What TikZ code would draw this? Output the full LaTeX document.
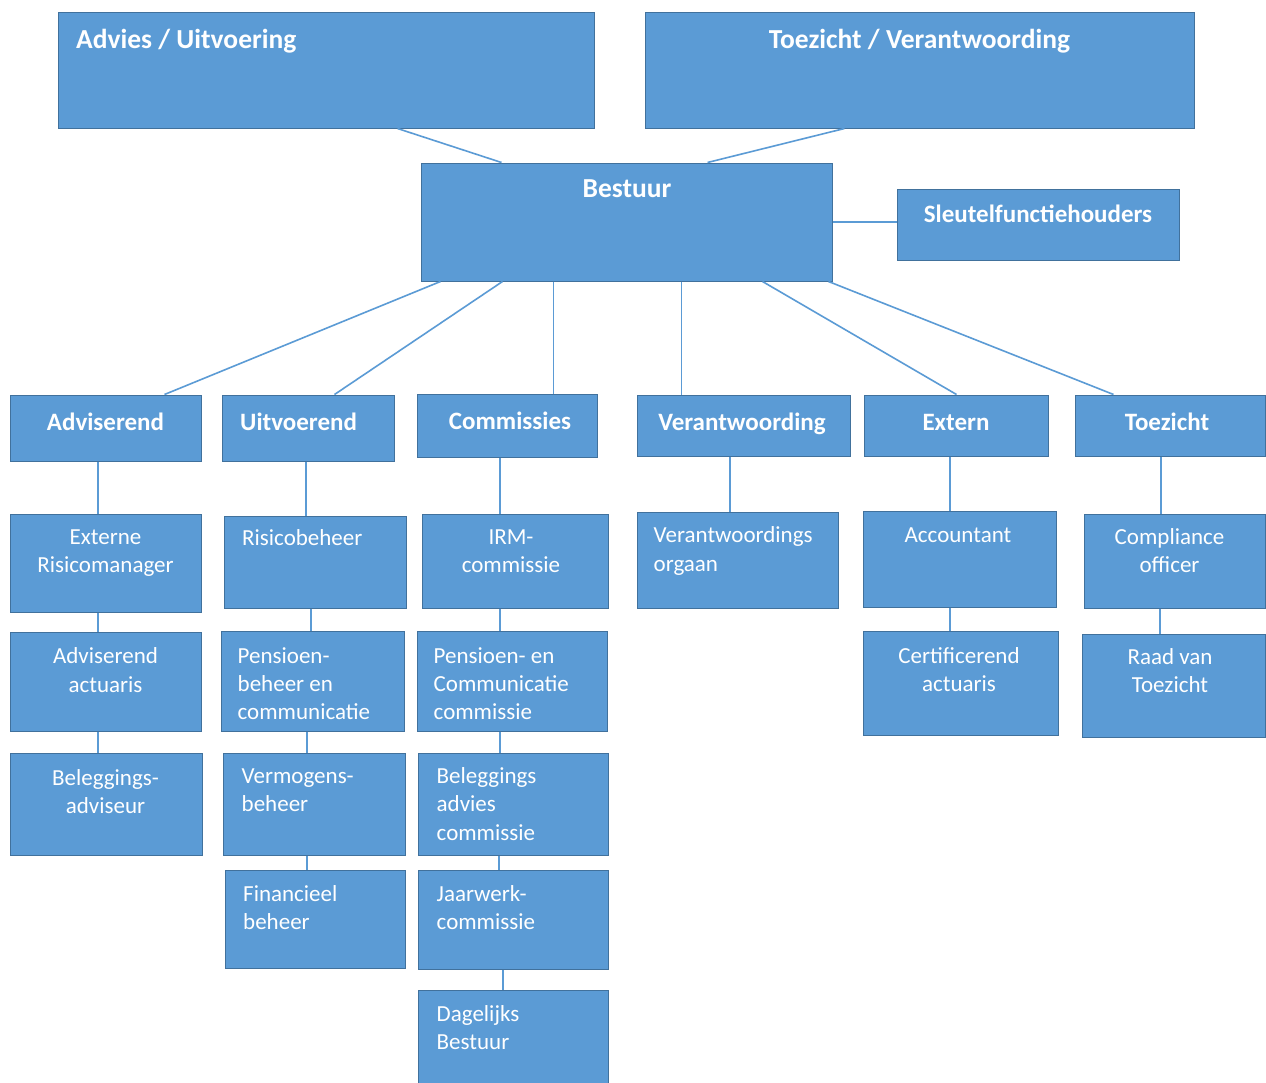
\documentclass[tikz,border=0pt]{standalone}
\usepackage{fontspec}
\setmainfont{Carlito}
\usetikzlibrary{fit,calc}
\definecolor{boxblue}{HTML}{5B9BD5}
\definecolor{boxedge}{HTML}{41719C}
\definecolor{linkblue}{HTML}{5B9BD5}
\tikzset{
  orgbox/.style={rectangle, fill=boxblue, draw=boxedge, line width=1pt, inner sep=0pt},
  conn/.style={draw=linkblue, line width=1.6pt},
  bodytxt/.style={text=white, inner sep=0pt, font=\fontsize{23}{28.3}\selectfont, yshift=19.81pt},
  headtxt/.style={text=white, inner sep=0pt, font=\fontsize{25}{30}\selectfont\bfseries, yshift=21pt},
  titletxt/.style={text=white, inner sep=0pt, font=\fontsize{27.5}{33}\selectfont\bfseries, yshift=23.1pt},
  ctr/.style={anchor=north, align=center},
  lft/.style={anchor=north west, align=left},
}
\newcommand\vlink[3]{\coordinate (vx) at (#3,0); \draw[conn] (#1.south -| vx) -- (#2.north -| vx);}
\begin{document}
\begin{tikzpicture}[x=1pt, y=-1pt]
\useasboundingbox (0,0) rectangle (1266,1082);
\fill[white] (0,0) rectangle (1266,1082);
% boxes
\node[orgbox, fit={(58,12) (594,128)}] (adv) {};
\node[orgbox, fit={(645,12) (1194,128)}] (toe) {};
\node[orgbox, fit={(421,163) (832,281)}] (bes) {};
\node[orgbox, fit={(897,189) (1179,260)}] (sle) {};
\node[orgbox, fit={(10,395) (201,461)}] (hAdv) {};
\node[orgbox, fit={(222,395) (394,461)}] (hUit) {};
\node[orgbox, fit={(417,394) (597,457)}] (hCom) {};
\node[orgbox, fit={(637,395) (850,456)}] (hVer) {};
\node[orgbox, fit={(864,395) (1048,456)}] (hExt) {};
\node[orgbox, fit={(1075,395) (1265,456)}] (hToe) {};
\node[orgbox, fit={(10,514) (201,612)}] (eRm) {};
\node[orgbox, fit={(224,516) (406,608)}] (risico) {};
\node[orgbox, fit={(422,514) (608,608)}] (irm) {};
\node[orgbox, fit={(637,512) (838,608)}] (vo) {};
\node[orgbox, fit={(863,511) (1056,607)}] (acc) {};
\node[orgbox, fit={(1084,514) (1265,608)}] (comp) {};
\node[orgbox, fit={(10,632) (201,731)}] (aact) {};
\node[orgbox, fit={(221,631) (404,731)}] (pbc) {};
\node[orgbox, fit={(417,631) (607,731)}] (pcc) {};
\node[orgbox, fit={(863,631) (1058,735)}] (cert) {};
\node[orgbox, fit={(1082,634) (1265,737)}] (rvt) {};
\node[orgbox, fit={(10,753) (202,855)}] (badv) {};
\node[orgbox, fit={(223,753) (405,855)}] (verm) {};
\node[orgbox, fit={(418,753) (608,855)}] (bac) {};
\node[orgbox, fit={(225,870) (405,968)}] (fin) {};
\node[orgbox, fit={(418,870) (608,969)}] (jwc) {};
\node[orgbox, fit={(418,990) (608,1092)}] (dbs) {};
% connectors
\draw[conn] ($(adv.south west)+(340,0)$) -- ($(bes.north west)+(81,0)$);
\draw[conn] ($(toe.south west)+(200,0)$) -- ($(bes.north west)+(287,0)$);
\draw[conn] (bes.east) -- (bes.east -| sle.west);
\draw[conn] ($(bes.south west)+(20,0)$) -- ($(hAdv.north west)+(155,0)$);
\draw[conn] ($(bes.south west)+(82,0)$) -- ($(hUit.north west)+(113,0)$);
\draw[conn] ($(bes.south west)+(133,0)$) -- ($(hCom.north west)+(137,0)$);
\draw[conn] ($(bes.south west)+(261,0)$) -- ($(hVer.north west)+(45,0)$);
\draw[conn] ($(bes.south west)+(342,0)$) -- ($(hExt.north west)+(93,0)$);
\draw[conn] ($(bes.south west)+(408,0)$) -- ($(hToe.north west)+(39,0)$);
\vlink{hAdv}{eRm}{98}
\vlink{eRm}{aact}{98}
\vlink{aact}{badv}{98}
\vlink{hUit}{risico}{306}
\vlink{risico}{pbc}{311}
\vlink{pbc}{verm}{307}
\vlink{verm}{fin}{307}
\vlink{hCom}{irm}{500}
\vlink{irm}{pcc}{500}
\vlink{pcc}{bac}{500}
\vlink{bac}{jwc}{499}
\vlink{jwc}{dbs}{503}
\vlink{hVer}{vo}{730}
\vlink{hExt}{acc}{950}
\vlink{acc}{cert}{950}
\vlink{hToe}{comp}{1161}
\vlink{comp}{rvt}{1160}
% texts
\node[titletxt, lft] (tAdv) at (76,48) {\strut Advies / Uitvoering};
\node[titletxt, ctr] (tToe) at (919.5,48) {\strut Toezicht / Verantwoording};
\node[titletxt, ctr] (tBes) at (627,197) {\strut Bestuur};
\node[headtxt, ctr] (tSle) at (1038,222.5) {\strut Sleutelfunctiehouders};
\node[headtxt, ctr] (thAdv) at (105.5,430) {\strut Adviserend};
\node[headtxt, lft] (thUit) at (240,430) {\strut Uitvoerend};
\node[headtxt, ctr] (thCom) at (510,429) {\strut Commissies};
\node[headtxt, ctr] (thVer) at (742,430) {\strut Verantwoording};
\node[headtxt, ctr] (thExt) at (956,430) {\strut Extern};
\node[headtxt, ctr] (thToe) at (1167,430) {\strut Toezicht};
\node[bodytxt, ctr] (teRm) at (105.5,544) {\strut Externe\\Risicomanager};
\node[bodytxt, lft] (tRis) at (242,545.5) {\strut Risicobeheer};
\node[bodytxt, ctr] (tIrm) at (511,544) {\strut IRM-\\commissie};
\node[bodytxt, lft] (tVo) at (653.5,542.7) {\strut Verantwoordings\\orgaan};
\node[bodytxt, ctr] (tAcc) at (958,542.3) {\strut Accountant};
\node[bodytxt, ctr] (tComp) at (1169.5,544) {\strut Compliance\\officer};
\node[bodytxt, ctr] (tAact) at (105.5,663.5) {\strut Adviserend\\actuaris};
\node[bodytxt, lft] (tPbc) at (237.5,663) {\strut Pensioen-\\beheer en\\communicatie};
\node[bodytxt, lft] (tPcc) at (433.5,663) {\strut Pensioen- en\\Communicatie\\commissie};
\node[bodytxt, ctr] (tCert) at (959,663.3) {\strut Certificerend\\actuaris};
\node[bodytxt, ctr] (tRvt) at (1170,664) {\strut Raad van\\Toezicht};
\node[bodytxt, ctr] (tBadv) at (105.5,785) {\strut Beleggings-\\adviseur};
\node[bodytxt, lft] (tVerm) at (241.5,783.3) {\strut Vermogens-\\beheer};
\node[bodytxt, lft] (tBac) at (436.5,783.3) {\strut Beleggings\\advies\\commissie};
\node[bodytxt, lft] (tFin) at (243,901) {\strut Financieel\\beheer};
\node[bodytxt, lft] (tJwc) at (436.5,901) {\strut Jaarwerk-\\commissie};
\node[bodytxt, lft] (tDbs) at (436.5,1021) {\strut Dagelijks\\Bestuur};
\end{tikzpicture}
\end{document}
